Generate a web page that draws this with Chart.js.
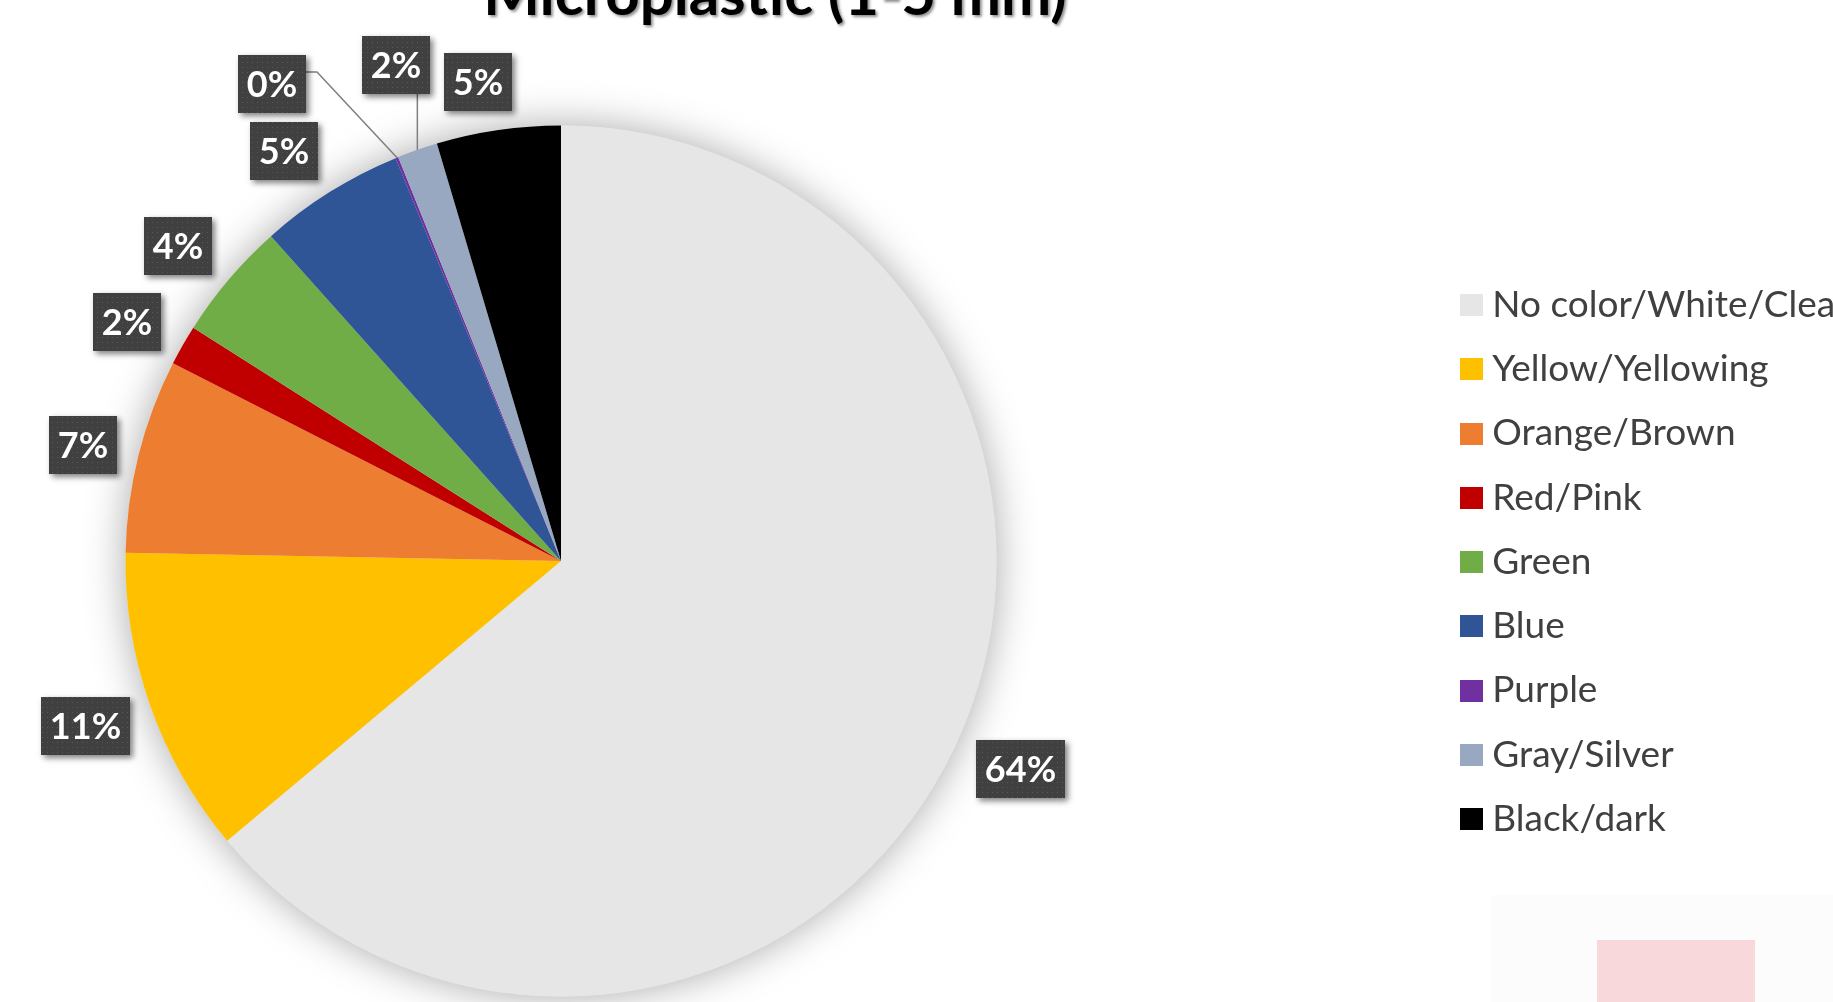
<!DOCTYPE html>
<html>
<head>
<meta charset="utf-8">
<title>Microplastic (1-5 mm)</title>
<script src="https://cdn.jsdelivr.net/npm/chart.js@4.4.1/dist/chart.umd.min.js"></script>
<style>
  html, body { margin: 0; padding: 0; background: #ffffff; overflow: hidden; }
  #wrap { position: relative; width: 1833px; height: 1002px; }
  #chart { display: block; }
  .corner { position: absolute; left: 1491px; top: 895px; width: 342px; height: 107px; background: #fcfcfc; }
  .corner .tab { position: absolute; left: 106px; top: 45px; width: 158px; height: 62px; background: #f8d8db; }
</style>
</head>
<body>
<div id="wrap">
  <canvas id="chart" width="1833" height="1002"></canvas>
  <div class="corner"><div class="tab"></div></div>
</div>
<script>
// Colour categories of the 1-5 mm particles and their share of the count (%)
const categories = [
  'No color/White/Clear', 'Yellow/Yellowing', 'Orange/Brown', 'Red/Pink',
  'Green', 'Blue', 'Purple', 'Gray/Silver', 'Black/dark'
];
const shares = [63.9, 11.4, 7.2, 1.5, 4.4, 5.4, 0.1, 1.5, 4.6];
const sliceColors = [
  '#E7E6E6', '#FFC000', '#ED7D31', '#C00000',
  '#70AD47', '#2F5597', '#7030A0', '#98A8C0', '#000000'
];
const chartTitle = 'Microplastic (1-5 mm)';

// where the pie sits on the canvas (centre and radius, px)
const PIE = { cx: 561, cy: 561, r: 435.5 };

// Labels of the two thin slices sit away from the pie, joined by a leader line
// (offset of the label centre from the pie centre, px)
const calloutOffsets = { 6: [-289, -477], 7: [-165, -496] };
// small turn (degrees, negative = anticlockwise) applied to the outside labels so they do not crowd
const labelTurnDeg = [-0.7, 0.3, -0.4, -0.9, -0.9, -2.0, 0, 0, -1.6];

const LABEL_FONT = 'bold 36px Lato';
const LABEL_PAD_X = 9;
const LABEL_H = 58;
const LABEL_GAP = 16;

// dotted dark fill used by the value labels
function makeDotPattern(ctx) {
  const c = document.createElement('canvas');
  c.width = 5; c.height = 5;
  const g = c.getContext('2d');
  g.fillStyle = '#404040';
  g.fillRect(0, 0, 5, 5);
  g.fillStyle = 'rgba(255,255,255,0.13)';
  g.fillRect(2, 2, 1, 1);
  return ctx.createPattern(c, 'repeat');
}

function swatch(color) {
  const c = document.createElement('canvas');
  c.width = 23; c.height = 22;
  const g = c.getContext('2d');
  g.fillStyle = color;
  g.fillRect(0, 0, 23, 22);
  return c;
}

function labelBox(ctx, text) {
  ctx.font = LABEL_FONT;
  const w = Math.round(ctx.measureText(text).width + 2 * LABEL_PAD_X);
  return { w, h: LABEL_H };
}

function drawLabel(ctx, pattern, text, box) {
  ctx.save();
  ctx.shadowColor = 'rgba(0,0,0,0.5)';
  ctx.shadowBlur = 6;
  ctx.shadowOffsetX = 3;
  ctx.shadowOffsetY = 3;
  ctx.fillStyle = '#404040';
  ctx.fillRect(box.x, box.y, box.w, box.h);
  ctx.restore();
  ctx.fillStyle = pattern;
  ctx.fillRect(box.x, box.y, box.w, box.h);
  ctx.font = LABEL_FONT;
  ctx.fillStyle = '#ffffff';
  ctx.textAlign = 'center';
  ctx.textBaseline = 'middle';
  ctx.fillText(text, box.x + box.w / 2, box.y + box.h / 2 + 1);
}

// keeps the pie in its own square on the left, the legend stays at the right edge
const pieArea = {
  id: 'pieArea',
  afterLayout(chart) {
    chart.chartArea = {
      left: PIE.cx - PIE.r, right: PIE.cx + PIE.r,
      top: PIE.cy - PIE.r, bottom: PIE.cy + PIE.r,
      width: PIE.r * 2, height: PIE.r * 2
    };
  }
};

// soft glow behind the whole pie
const pieShadow = {
  id: 'pieShadow',
  beforeDatasetsDraw(chart) {
    const arc = chart.getDatasetMeta(0).data[0];
    if (!arc) return;
    const { x, y, outerRadius } = arc.getProps(['x', 'y', 'outerRadius'], true);
    const ctx = chart.ctx;
    ctx.save();
    ctx.shadowColor = 'rgba(0,0,0,0.34)';
    ctx.shadowBlur = 40;
    ctx.beginPath();
    ctx.arc(x, y, outerRadius, 0, Math.PI * 2);
    ctx.fillStyle = sliceColors[0];
    ctx.fill();
    ctx.restore();
  }
};

// percentage labels outside each slice
const valueLabels = {
  id: 'valueLabels',
  afterDatasetsDraw(chart) {
    const ctx = chart.ctx;
    const pattern = makeDotPattern(ctx);
    const meta = chart.getDatasetMeta(0);
    const values = chart.data.datasets[0].data;
    const total = values.reduce((a, b) => a + b, 0);
    const items = meta.data.map((arc, i) => {
      const p = arc.getProps(['x', 'y', 'startAngle', 'endAngle', 'outerRadius'], true);
      const mid = (p.startAngle + p.endAngle) / 2;
      const text = Math.round(values[i] / total * 100) + '%';
      const size = labelBox(ctx, text);
      const anchor = { x: p.x + Math.cos(mid) * p.outerRadius, y: p.y + Math.sin(mid) * p.outerRadius };
      let cx, cy;
      const moved = calloutOffsets[i];
      if (moved) {
        cx = p.x + moved[0];
        cy = p.y + moved[1];
      } else {
        const a = mid + labelTurnDeg[i] * Math.PI / 180;
        const ux = Math.cos(a), uy = Math.sin(a);
        const extent = Math.abs(ux) * size.w / 2 + Math.abs(uy) * size.h / 2;
        const d = p.outerRadius + LABEL_GAP + extent;
        cx = p.x + ux * d;
        cy = p.y + uy * d;
      }
      const box = { x: Math.round(cx - size.w / 2), y: Math.round(cy - size.h / 2), w: size.w, h: size.h };
      return { text, box, anchor, moved: !!moved };
    });

    // leader lines first, boxes on top
    ctx.save();
    ctx.strokeStyle = '#7F7F7F';
    ctx.lineWidth = 1.5;
    items.filter(it => it.moved).forEach(it => {
      const b = it.box, a = it.anchor;
      ctx.beginPath();
      if (a.x >= b.x && a.x <= b.x + b.w) {
        ctx.moveTo(a.x, b.y + b.h);
        ctx.lineTo(a.x, a.y);
      } else {
        const ly = b.y + 17;
        ctx.moveTo(b.x + b.w, ly);
        ctx.lineTo(b.x + b.w + 11, ly);
        ctx.lineTo(a.x, a.y);
      }
      ctx.stroke();
    });
    ctx.restore();

    items.forEach(it => drawLabel(ctx, pattern, it.text, it.box));
  }
};

// heading, set partly above the top edge of the drawing
const heading = {
  id: 'heading',
  afterDraw(chart) {
    const ctx = chart.ctx;
    ctx.save();
    ctx.font = 'bold 60px Lato';
    ctx.textAlign = 'center';
    ctx.textBaseline = 'alphabetic';
    ctx.shadowColor = 'rgba(0,0,0,0.45)';
    ctx.shadowBlur = 3;
    ctx.shadowOffsetX = 2;
    ctx.shadowOffsetY = 2;
    ctx.fillStyle = '#000000';
    ctx.fillText(chartTitle, 775, 15);
    ctx.restore();
  }
};

new Chart(document.getElementById('chart'), {
  type: 'pie',
  data: {
    labels: categories,
    datasets: [{
      data: shares,
      backgroundColor: sliceColors,
      borderWidth: 0,
      hoverBorderWidth: 0,
      hoverOffset: 0,
      offset: 0
    }]
  },
  options: {
    responsive: false,
    animation: false,
    events: [],
    layout: { padding: { left: 0, right: 0, top: 126.5, bottom: 4.5 } },
    plugins: {
      title: { display: false },
      tooltip: { enabled: false },
      legend: {
        position: 'right',
        maxWidth: 391.5,
        labels: {
          font: { family: 'Lato', size: 37 },
          color: '#404040',
          padding: 27.25,
          usePointStyle: true,
          pointStyleWidth: 5,
          boxHeight: 22,
          generateLabels(chart) {
            const items = Chart.overrides.doughnut.plugins.legend.labels.generateLabels(chart);
            return items.map(it => Object.assign(it, { pointStyle: swatch(it.fillStyle) }));
          }
        }
      }
    }
  },
  plugins: [pieArea, pieShadow, valueLabels, heading]
});
</script>
</body>
</html>
